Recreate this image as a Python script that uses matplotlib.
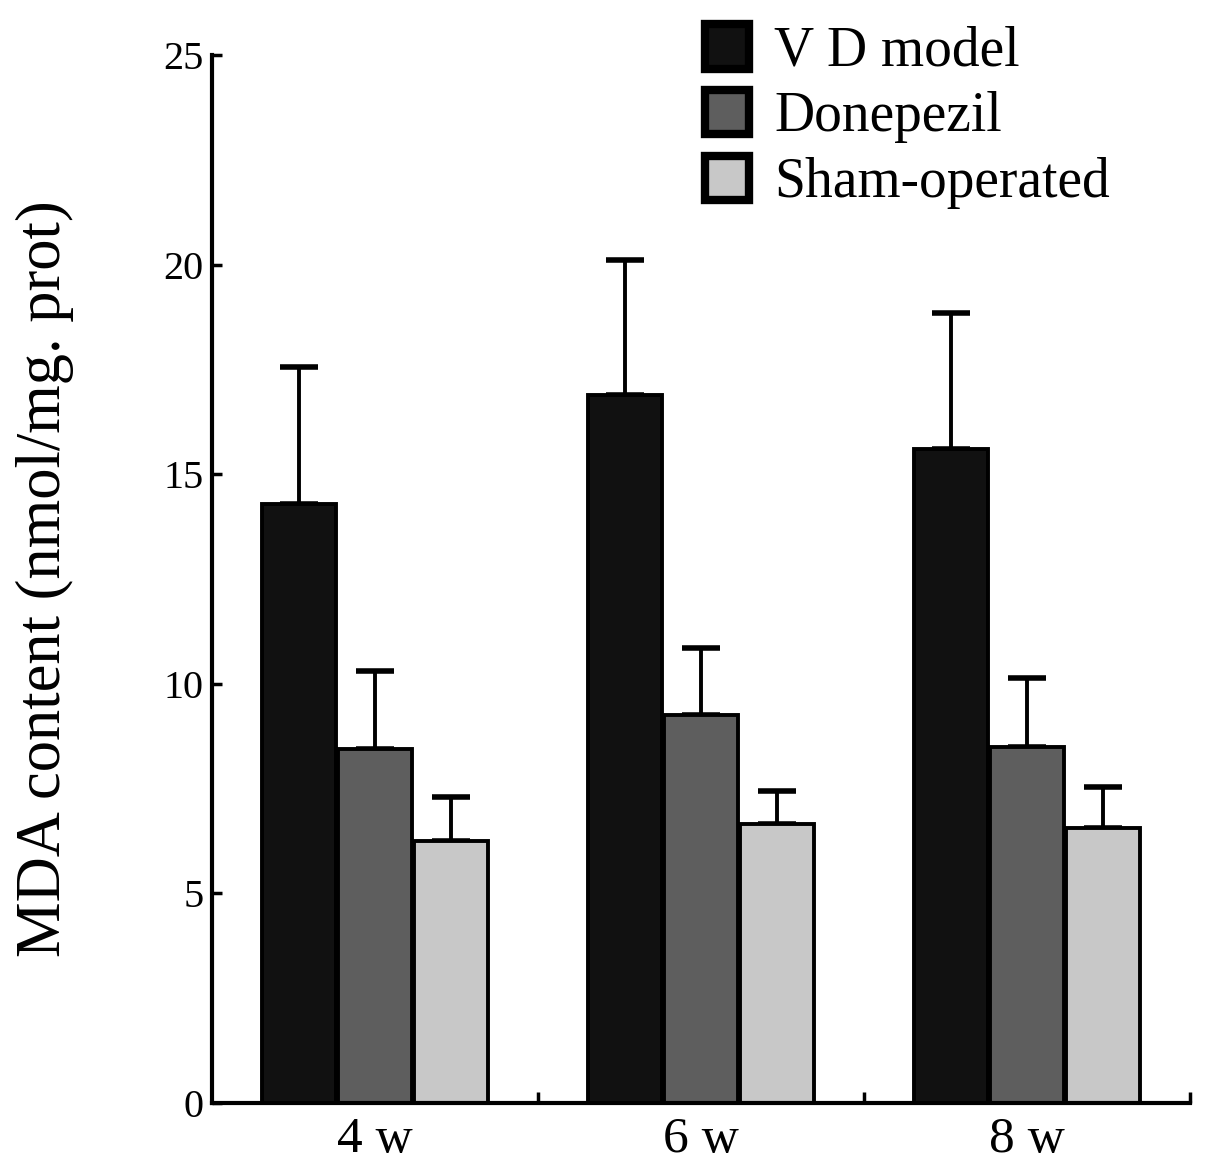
import numpy as np
import matplotlib
matplotlib.use("Agg")
import matplotlib.pyplot as plt
from matplotlib.patches import Patch

plt.rcParams['font.family'] = ['Liberation Serif', 'DejaVu Serif']

categories = ["4 w", "6 w", "8 w"]
series_names = ["V D model", "Donepezil", "Sham-operated"]
vd_model = [14.3, 16.9, 15.6]
vd_model_err = [3.25, 3.2, 3.25]
donepezil = [8.45, 9.25, 8.5]
donepezil_err = [1.85, 1.6, 1.65]
sham = [6.25, 6.65, 6.55]
sham_err = [1.05, 0.8, 1.0]
y_ticks = [0, 5, 10, 15, 20, 25]

values = [vd_model, donepezil, sham]
errors = [vd_model_err, donepezil_err, sham_err]
colors = ["#111111", "#5e5e5e", "#c8c8c8"]

fig = plt.figure(figsize=(12.05, 11.66), dpi=100)
ax = fig.add_axes([0.176, 0.054, 0.9876 - 0.176, 0.9528 - 0.054])

x = np.arange(1, len(categories) + 1)
offsets = [-0.233, 0.0, 0.233]
width = 0.228
for vals, errs, col, off in zip(values, errors, colors, offsets):
    ax.bar(x + off, vals, width=width, color=col, edgecolor="black",
           linewidth=2.8, zorder=2)
    ax.errorbar(x + off, vals, yerr=[np.zeros(len(errs)), errs], fmt="none",
                ecolor="black", elinewidth=2.8, capsize=14, capthick=4,
                zorder=1)

ax.set_xlim(0.5, 3.5)
ax.set_ylim(0, 25)
ax.set_yticks(y_ticks)
ax.set_yticklabels([str(t) for t in y_ticks], fontsize=29)
ax.set_xticks(x)
ax.set_xticklabels(categories, fontsize=37)
ax.set_xticks([1.5, 2.5, 3.5], minor=True)
ax.tick_params(axis="x", which="major", length=0, pad=10)
ax.tick_params(axis="x", which="minor", direction="in", length=8, width=2.5)
ax.tick_params(axis="y", which="major", direction="in", length=7, width=2.5, pad=6)

for s in ["top", "right"]:
    ax.spines[s].set_visible(False)
for s in ["left", "bottom"]:
    ax.spines[s].set_linewidth(3)

ax.set_ylabel("MDA content (nmol/mg. prot)", fontsize=45, labelpad=64)

handles = [Patch(facecolor=c, edgecolor="black", linewidth=6) for c in colors]
fig.legend(handles, series_names, loc="upper left",
           bbox_to_anchor=(0.585, 0.979), frameon=False, fontsize=40,
           handlelength=0.8, handleheight=0.85, handletextpad=0.45,
           labelspacing=0.22, borderpad=0, borderaxespad=0)

fig.savefig("out.png", dpi=100)
